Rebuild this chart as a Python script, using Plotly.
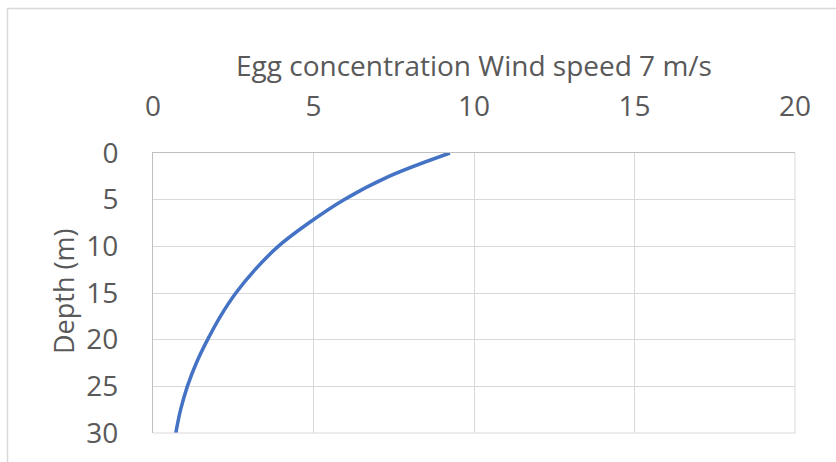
import plotly.graph_objects as go

# Egg concentration profile vs depth
depth = [0, 2.5, 5, 7.5, 10, 12.5, 15, 17.5, 20, 22.5, 25, 27.5, 30]
concentration = [9.25, 7.35, 5.95, 4.85, 3.9, 3.18, 2.58, 2.1, 1.7, 1.35, 1.07, 0.86, 0.71]

x_ticks = [0, 5, 10, 15, 20]
y_ticks = [0, 5, 10, 15, 20, 25, 30]

text_color = "#595959"
font_family = "Open Sans, Carlito, Calibri, sans-serif"

fig = go.Figure()
fig.add_trace(go.Scatter(
    x=concentration, y=depth, mode="lines",
    line=dict(color="#4472C4", width=3.5, shape="spline", smoothing=1.0),
    hoverinfo="skip", showlegend=False,
))

fig.update_layout(
    width=836, height=462,
    margin=dict(l=153, r=41, t=153, b=29),
    paper_bgcolor="white", plot_bgcolor="white",
    font=dict(family=font_family, color=text_color, size=27),
    xaxis=dict(
        side="top", range=[0, 20], tickvals=x_ticks,
        tickfont=dict(size=28, color=text_color),
        showgrid=True, gridcolor="#d9d9d9", gridwidth=1,
        showline=True, linecolor="#bfbfbf", linewidth=1,
        zeroline=False, ticks="", ticklabelstandoff=25,
        fixedrange=True,
    ),
    yaxis=dict(
        range=[30, 0], tickvals=y_ticks,
        tickfont=dict(size=28, color=text_color),
        showgrid=True, gridcolor="#d9d9d9", gridwidth=1,
        showline=True, linecolor="#bfbfbf", linewidth=1,
        zeroline=False, ticks="", ticklabelstandoff=28,
        fixedrange=True,
    ),
    annotations=[
        dict(text="Egg concentration Wind speed 7 m/s", xref="paper", yref="paper",
             x=0.5, y=1 + (153 - 65) / 280, xanchor="center", yanchor="middle",
             showarrow=False, font=dict(size=28, color=text_color)),
        dict(text="Depth (m)", xref="paper", yref="paper",
             x=(63 - 153) / 642, y=(433 - 292) / 280, xanchor="center", yanchor="middle",
             textangle=-90, showarrow=False, font=dict(size=27, color=text_color)),
    ],
    shapes=[
        # outer chart frame
        dict(type="rect", xref="paper", yref="paper",
             x0=(7.5 - 153) / 642, x1=1.3, y0=-0.3, y1=1 + (153 - 8.5) / 280,
             line=dict(color="#d9d9d9", width=1.5), layer="below"),
        # right and bottom plot edges
        dict(type="line", xref="paper", yref="paper", x0=1, x1=1, y0=0, y1=1,
             line=dict(color="#d9d9d9", width=1)),
        dict(type="line", xref="paper", yref="paper", x0=0, x1=1, y0=0, y1=0,
             line=dict(color="#d9d9d9", width=1)),
    ],
)

fig.write_html("out.html")
